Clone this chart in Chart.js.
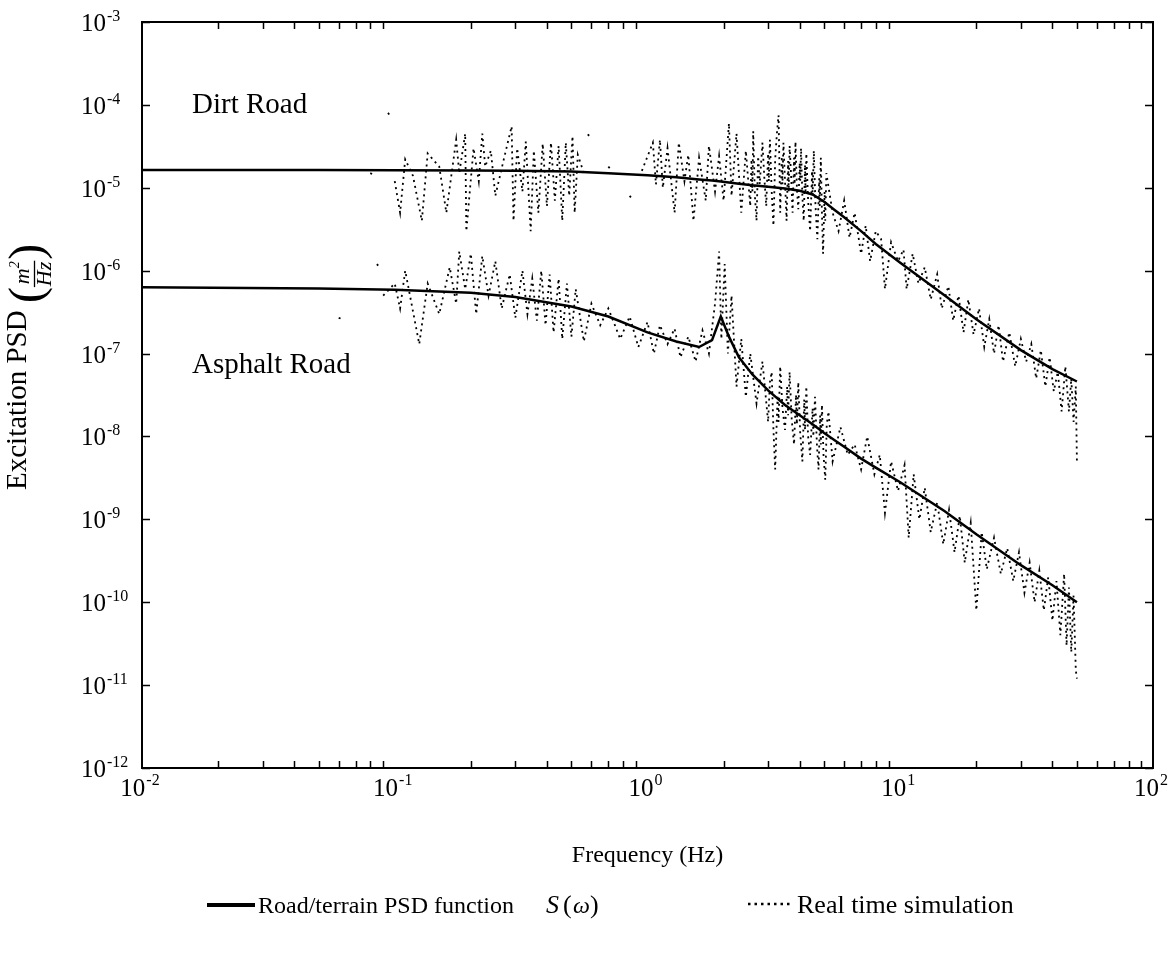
<!DOCTYPE html>
<html>
<head>
<meta charset="utf-8">
<script src="https://cdn.jsdelivr.net/npm/chart.js@4.4.0/dist/chart.umd.min.js"></script>
<style>
  html, body { margin: 0; padding: 0; background: #fff; }
  canvas { display: block; }
</style>
</head>
<body>
<canvas id="myChart" width="1175" height="958"></canvas>
<script>
// road / terrain PSD function (solid lines)
let funcFreq = [0.01, 0.05, 0.1, 0.2, 0.3, 0.5, 0.7, 1.0, 1.3, 1.6, 1.8, 1.95, 2.1, 2.3, 2.6, 3.0, 3.5, 4.0, 4.5, 5.0, 5.5, 6.0, 7.0, 8.0, 10, 15, 20, 30, 40, 50];
let dirtFunc = [1.64e-5, 1.64e-5, 1.63e-5, 1.62e-5, 1.6e-5, 1.57e-5, 1.5e-5, 1.42e-5, 1.34e-5, 1.26e-5, 1.22e-5, 1.19e-5, 1.16e-5, 1.12e-5, 1.07e-5, 1.03e-5, 9.8e-6, 9.2e-6, 8.3e-6, 6.8e-6, 5.4e-6, 4.4e-6, 3.0e-6, 2.1e-6, 1.25e-6, 5.0e-7, 2.6e-7, 1.1e-7, 6.5e-8, 4.6e-8];
let asphFunc = [6.3e-7, 6.1e-7, 5.9e-7, 5.4e-7, 4.8e-7, 3.7e-7, 2.8e-7, 1.8e-7, 1.4e-7, 1.2e-7, 1.45e-7, 2.8e-7, 1.6e-7, 9e-8, 5.6e-8, 3.6e-8, 2.4e-8, 1.8e-8, 1.4e-8, 1.1e-8, 9e-9, 7.5e-9, 5.4e-9, 4.2e-9, 2.8e-9, 1.25e-9, 6.6e-10, 2.8e-10, 1.6e-10, 1.0e-10];

// real time simulation (dotted lines), null = gap in the trace
let dirtSimFreq = [0.080, 0.082, 0.083, 0.094, 0.096, 0.097, 0.100, 0.105, 0.110, 0.118, 0.128, 0.135, 0.150, 0.160, 0.175, 0.180, 0.190, 0.192, 0.205, 0.215, 0.222, 0.228, 0.240, 0.250, 0.270, 0.290, 0.295, 0.305, 0.320, 0.330, 0.345, 0.355, 0.370, 0.385, 0.400, 0.415, 0.430, 0.445, 0.460, 0.475, 0.490, 0.505, 0.515, 0.530, 0.560, 0.570, 0.580, 0.590, 0.600, 0.700, 0.712, 0.720, 0.850, 0.862, 0.870, 0.950, 1.05, 1.08, 1.12, 1.15, 1.20, 1.28, 1.33, 1.40, 1.45, 1.52, 1.60, 1.70, 1.75, 1.85, 1.92, 2.00, 2.10, 2.15, 2.25, 2.35, 2.45, 2.55, 2.58, 2.60, 2.62, 2.66, 2.70, 2.74, 2.78, 2.85, 2.90, 2.95, 3.00, 3.02, 3.05, 3.10, 3.15, 3.20, 3.25, 3.30, 3.35, 3.40, 3.42, 3.45, 3.50, 3.55, 3.60, 3.62, 3.65, 3.70, 3.75, 3.80, 3.82, 3.85, 3.90, 3.95, 4.00, 4.02, 4.05, 4.10, 4.15, 4.20, 4.22, 4.25, 4.32, 4.40, 4.48, 4.50, 4.55, 4.62, 4.70, 4.78, 4.80, 4.85, 4.90, 4.95, 5.02, 5.05, 5.10, 5.40, 5.70, 6.00, 6.30, 6.60, 7.0, 7.3, 7.6, 8.0, 8.4, 8.7, 9.2, 9.8, 10.3, 10.6, 11.2, 11.8, 12.5, 13.2, 14.0, 14.6, 15.5, 16.2, 17.0, 17.8, 18.6, 19.5, 20.5, 21.5, 22.5, 23.5, 24.5, 25.5, 27.0, 28.5, 30.0, 31.5, 33.0, 34.5, 36.0, 37.5, 39.0, 40.5, 42.0, 43.5, 45.0, 46.5, 47.5, 48.5, 49.5, 50.0];
let dirtSimPsd = [1.5e-5, 1.45e-5, null, 8e-5, 7.4e-5, null, 1.2e-5, 5e-6, 2.2e-5, 1.4e-5, 4e-6, 2.6e-5, 1.8e-5, 5e-6, 3.8e-5, 1.5e-5, 4.5e-5, 3e-6, 3e-5, 1.2e-5, 4.5e-5, 1.8e-5, 2.8e-5, 8e-6, 2.2e-5, 5.5e-5, 4e-6, 3e-5, 9e-6, 3.6e-5, 3e-6, 2.8e-5, 5e-6, 3.4e-5, 6e-6, 3.5e-5, 7e-6, 3.2e-5, 4e-6, 3.5e-5, 8e-6, 4.2e-5, 5e-6, 2.5e-5, 1.5e-5, null, 4.4e-5, 4.2e-5, null, 1.8e-5, 1.7e-5, null, 8e-6, 7.6e-6, null, 1.6e-5, 3.5e-5, 1.1e-5, 3.8e-5, 1.0e-5, 3e-5, 5e-6, 3.5e-5, 1.2e-5, 2.5e-5, 4e-6, 2.3e-5, 7e-6, 3.2e-5, 9e-6, 2.4e-5, 7e-6, 6e-5, 8e-6, 4.5e-5, 5e-6, 2.8e-5, 6e-6, 2.2e-5, 9e-6, 4.8e-5, 8e-6, 4e-6, 2.4e-5, 1.1e-5, 3.5e-5, 1.3e-5, 6e-6, 2.6e-5, 1.2e-5, 3.8e-5, 9e-6, 3.5e-6, 2.2e-5, 4.5e-5, 7.5e-5, 5e-6, 2.4e-5, 1.1e-5, 3.5e-5, 1.2e-5, 4e-6, 2.1e-5, 9e-6, 3.2e-5, 1.4e-5, 5e-6, 2.3e-5, 1.1e-5, 3.6e-5, 1.0e-5, 5.5e-6, 2.0e-5, 1.2e-5, 3.0e-5, 8e-6, 4e-6, 1.9e-5, 9e-6, 2.6e-5, 7e-6, 3e-6, 1.6e-5, 8e-6, 2.8e-5, 6e-6, 2.4e-6, 1.3e-5, 6e-6, 2.3e-5, 5e-6, 1.6e-6, 9e-6, 4e-6, 1.5e-5, 5e-6, 3e-6, 7e-6, 2.5e-6, 5e-6, 1.6e-6, 3.5e-6, 1.3e-6, 3e-6, 2.4e-6, 6e-7, 2.2e-6, 1.3e-6, 1.8e-6, 6e-7, 1.6e-6, 7e-7, 1.1e-6, 4.5e-7, 9e-7, 3.5e-7, 6.5e-7, 2.5e-7, 5e-7, 1.8e-7, 4.5e-7, 1.7e-7, 3.5e-7, 1.2e-7, 2.6e-7, 1.0e-7, 2.2e-7, 8e-8, 1.8e-7, 7e-8, 1.5e-7, 8e-8, 1.3e-7, 5e-8, 1.1e-7, 4e-8, 9e-8, 3.5e-8, 6e-8, 2e-8, 7e-8, 2e-8, 5e-8, 1.5e-8, 4e-8, 5e-9];

let asphSimFreq = [0.060, 0.062, 0.063, 0.085, 0.087, 0.088, 0.090, 0.100, 0.105, 0.110, 0.125, 0.135, 0.150, 0.165, 0.175, 0.180, 0.190, 0.200, 0.210, 0.222, 0.235, 0.250, 0.265, 0.285, 0.300, 0.320, 0.335, 0.350, 0.365, 0.380, 0.395, 0.410, 0.425, 0.445, 0.460, 0.480, 0.500, 0.520, 0.560, 0.600, 0.650, 0.700, 0.780, 0.850, 0.920, 1.00, 1.06, 1.12, 1.20, 1.28, 1.35, 1.45, 1.55, 1.65, 1.75, 1.85, 1.92, 1.96, 2.02, 2.08, 2.15, 2.25, 2.35, 2.45, 2.55, 2.70, 2.85, 3.00, 3.05, 3.10, 3.15, 3.20, 3.27, 3.30, 3.35, 3.42, 3.50, 3.57, 3.60, 3.65, 3.72, 3.80, 3.87, 3.90, 3.95, 4.02, 4.10, 4.17, 4.20, 4.25, 4.32, 4.40, 4.50, 4.53, 4.60, 4.68, 4.75, 4.82, 4.85, 4.90, 4.97, 5.05, 5.12, 5.20, 5.40, 5.8, 6.2, 6.6, 7.0, 7.4, 7.9, 8.3, 8.7, 9.2, 9.8, 10.4, 10.8, 11.3, 11.9, 12.5, 13.2, 14.0, 14.8, 15.6, 16.4, 17.2, 18.0, 19.0, 20.0, 21.0, 22.0, 23.5, 25.0, 26.5, 28.0, 29.5, 31.0, 32.5, 34.0, 35.5, 37.0, 38.5, 40.0, 41.5, 43.0, 44.5, 45.5, 46.5, 47.5, 48.5, 49.5, 50.0];
let asphSimPsd = [2.7e-7, 2.6e-7, null, 1.2e-6, 1.1e-6, null, 5e-7, 7e-7, 3.5e-7, 1e-6, 1.3e-7, 7e-7, 3e-7, 1.1e-6, 4e-7, 1.7e-6, 6e-7, 1.6e-6, 3e-7, 1.5e-6, 5e-7, 1.3e-6, 3.5e-7, 9e-7, 2.7e-7, 1.0e-6, 3.0e-7, 8e-7, 2.5e-7, 1.0e-6, 2.2e-7, 9e-7, 1.8e-7, 8e-7, 1.5e-7, 7e-7, 1.6e-7, 6e-7, 1.4e-7, 4e-7, 2.2e-7, 3.5e-7, 1.5e-7, 2.8e-7, 1.2e-7, 2.4e-7, 1.0e-7, 2.2e-7, 1.3e-7, 2.0e-7, 9e-8, 1.6e-7, 8e-8, 1.9e-7, 1.0e-7, 4e-7, 1.7e-6, 1.5e-7, 1.2e-6, 1.0e-7, 5e-7, 4e-8, 1.5e-7, 3e-8, 1.0e-7, 2.5e-8, 8e-8, 1.5e-8, 4.5e-8, 6e-8, 1.2e-8, 4e-9, 3e-8, 1.5e-8, 7e-8, 2.2e-8, 1.2e-8, 4e-8, 1.8e-8, 6e-8, 1.6e-8, 8e-9, 3.2e-8, 1.4e-8, 4.5e-8, 1.1e-8, 5e-9, 2.8e-8, 1.2e-8, 4e-8, 1.0e-8, 6e-9, 2.2e-8, 1.0e-8, 3e-8, 8e-9, 4e-9, 1.8e-8, 8e-9, 2.4e-8, 6e-9, 3e-9, 1.4e-8, 2e-8, 5e-9, 1.3e-8, 6e-9, 8e-9, 4e-9, 1e-8, 3.5e-9, 6e-9, 1.2e-9, 5e-9, 2.2e-9, 4.5e-9, 6e-10, 3.5e-9, 1.0e-9, 2.4e-9, 7e-10, 1.6e-9, 5e-10, 1.3e-9, 4e-10, 1.1e-9, 3e-10, 9e-10, 8e-11, 7e-10, 2.5e-10, 6e-10, 2.2e-10, 4.5e-10, 1.8e-10, 4e-10, 1.3e-10, 3e-10, 1.0e-10, 2.4e-10, 8e-11, 2e-10, 6e-11, 1.8e-10, 4e-11, 2.2e-10, 3e-11, 1.5e-10, 2.5e-11, 1.2e-10, 1.5e-11, 1.2e-11];

// axis ticks
let xTickExp = [-2, -1, 0, 1, 2];
let yTickExp = [-12, -11, -10, -9, -8, -7, -6, -5, -4, -3];
let minorMult = [2, 3, 4, 5, 6, 7, 8, 9];

let serif = '"Liberation Serif", "Times New Roman", serif';

function pairs(xs, ys) {
    return xs.map(function (x, i) {
        return {x: x, y: ys[i]};
    });
}

// draws the frame, inward ticks, labels, titles and legend
let decorate = {
    id: 'decorate',
    afterDraw: function (chart) {
        let ctx = chart.ctx;
        let a = chart.chartArea;
        let xs = chart.scales.x;
        let ys = chart.scales.y;
        ctx.save();
        ctx.strokeStyle = '#000';
        ctx.fillStyle = '#000';

        // frame
        ctx.lineWidth = 2;
        ctx.strokeRect(a.left, a.top, a.right - a.left, a.bottom - a.top);

        // ticks
        ctx.lineWidth = 1.5;
        ctx.beginPath();
        yTickExp.forEach(function (e) {
            let py = Math.round(ys.getPixelForValue(Math.pow(10, e))) + 0.5;
            ctx.moveTo(a.left, py); ctx.lineTo(a.left + 8, py);
            ctx.moveTo(a.right, py); ctx.lineTo(a.right - 8, py);
        });
        xTickExp.forEach(function (e) {
            if (e === 2) return;
            minorMult.forEach(function (m) {
                let px = Math.round(xs.getPixelForValue(m * Math.pow(10, e))) + 0.5;
                ctx.moveTo(px, a.bottom); ctx.lineTo(px, a.bottom - 7);
                ctx.moveTo(px, a.top); ctx.lineTo(px, a.top + 7);
            });
        });
        ctx.stroke();

        // tick labels
        ctx.textBaseline = 'alphabetic';
        ctx.textAlign = 'left';
        yTickExp.forEach(function (e) {
            let py = ys.getPixelForValue(Math.pow(10, e));
            ctx.font = '25px ' + serif;
            ctx.fillText('10', 81, py + 9);
            let w = ctx.measureText('10').width;
            ctx.font = '16px ' + serif;
            ctx.fillText('-' + Math.abs(e), 81 + w + 1, py - 1);
        });
        xTickExp.forEach(function (e) {
            let px = xs.getPixelForValue(Math.pow(10, e));
            let ex = e < 0 ? '-' + Math.abs(e) : String(e);
            ctx.font = '25px ' + serif;
            let w1 = ctx.measureText('10').width;
            ctx.font = '16px ' + serif;
            let w2 = ctx.measureText(ex).width;
            let x0 = px - (w1 + w2 + 1) / 2 - 2;
            ctx.font = '25px ' + serif;
            ctx.fillText('10', x0, 796);
            ctx.font = '16px ' + serif;
            ctx.fillText(ex, x0 + w1 + 1, 785);
        });

        // x title
        ctx.font = '24px ' + serif;
        ctx.textAlign = 'center';
        ctx.fillText('Frequency (Hz)', (a.left + a.right) / 2, 862);

        // y title, rotated
        ctx.save();
        ctx.translate(26, 490);
        ctx.rotate(-Math.PI / 2);
        ctx.textAlign = 'left';
        ctx.font = '29px ' + serif;
        let t = 'Excitation PSD ';
        ctx.fillText(t, 0, 0);
        let u = ctx.measureText(t).width;
        ctx.font = '48px ' + serif;
        ctx.fillText('(', u, 16);
        u += ctx.measureText('(').width + 1;
        ctx.font = 'italic 22px ' + serif;
        ctx.fillText('m', u + 2, 3);
        let mw = ctx.measureText('m').width;
        ctx.font = 'italic 14px ' + serif;
        ctx.fillText('2', u + 2 + mw, -7);
        ctx.font = 'italic 22px ' + serif;
        let hw = ctx.measureText('Hz').width;
        ctx.fillText('Hz', u, 25);
        ctx.lineWidth = 1.3;
        ctx.beginPath();
        ctx.moveTo(u - 1, 8.5); ctx.lineTo(u + hw + 1, 8.5);
        ctx.stroke();
        u += hw + 2;
        ctx.font = '48px ' + serif;
        ctx.fillText(')', u, 16);
        ctx.restore();

        // in-plot labels
        ctx.textAlign = 'left';
        ctx.font = '29px ' + serif;
        ctx.fillText('Dirt Road', 192, 113);
        ctx.fillText('Asphalt Road', 192, 373);

        // legend
        ctx.lineWidth = 4;
        ctx.setLineDash([]);
        ctx.beginPath();
        ctx.moveTo(207, 905); ctx.lineTo(255, 905);
        ctx.stroke();
        ctx.font = '24px ' + serif;
        ctx.fillText('Road/terrain PSD function', 258, 913);
        ctx.font = 'italic 26px ' + serif;
        ctx.fillText('S', 546, 913);
        ctx.font = '26px ' + serif;
        ctx.fillText('(', 563, 913);
        ctx.font = 'italic 24px ' + serif;
        ctx.fillText('\u03c9', 573, 913);
        ctx.font = '26px ' + serif;
        ctx.fillText(')', 590, 913);

        ctx.lineWidth = 2.5;
        ctx.setLineDash([2.5, 4]);
        ctx.beginPath();
        ctx.moveTo(748, 904); ctx.lineTo(792, 904);
        ctx.stroke();
        ctx.setLineDash([]);
        ctx.font = '26px ' + serif;
        ctx.fillText('Real time simulation', 797, 913);

        ctx.restore();
    }
};

let ctx = document.getElementById('myChart').getContext('2d');
let chart = new Chart(ctx, {
    type: 'line',
    data: {
        datasets: [
            {
                label: 'Dirt Road simulation',
                data: pairs(dirtSimFreq, dirtSimPsd),
                borderColor: '#000',
                borderWidth: 1.8,
                borderDash: [2, 4],
                pointRadius: 0,
                spanGaps: false,
                tension: 0
            },
            {
                label: 'Asphalt Road simulation',
                data: pairs(asphSimFreq, asphSimPsd),
                borderColor: '#000',
                borderWidth: 1.8,
                borderDash: [2, 4],
                pointRadius: 0,
                spanGaps: false,
                tension: 0
            },
            {
                label: 'Dirt Road PSD',
                data: pairs(funcFreq, dirtFunc),
                borderColor: '#000',
                borderWidth: 2.5,
                pointRadius: 0,
                tension: 0
            },
            {
                label: 'Asphalt Road PSD',
                data: pairs(funcFreq, asphFunc),
                borderColor: '#000',
                borderWidth: 2.5,
                pointRadius: 0,
                tension: 0
            }
        ]
    },
    options: {
        responsive: false,
        animation: false,
        layout: {padding: {top: 22, right: 22, left: 0, bottom: 0}},
        plugins: {
            legend: {display: false},
            tooltip: {enabled: false}
        },
        scales: {
            x: {
                type: 'logarithmic',
                min: 0.01,
                max: 100,
                grid: {display: false},
                border: {display: false},
                ticks: {display: false},
                afterFit: function (scale) { scale.height = 190; }
            },
            y: {
                type: 'logarithmic',
                min: 1e-12,
                max: 1e-3,
                grid: {display: false},
                border: {display: false},
                ticks: {display: false},
                afterFit: function (scale) { scale.width = 142; }
            }
        }
    },
    plugins: [decorate]
});
</script>
</body>
</html>
